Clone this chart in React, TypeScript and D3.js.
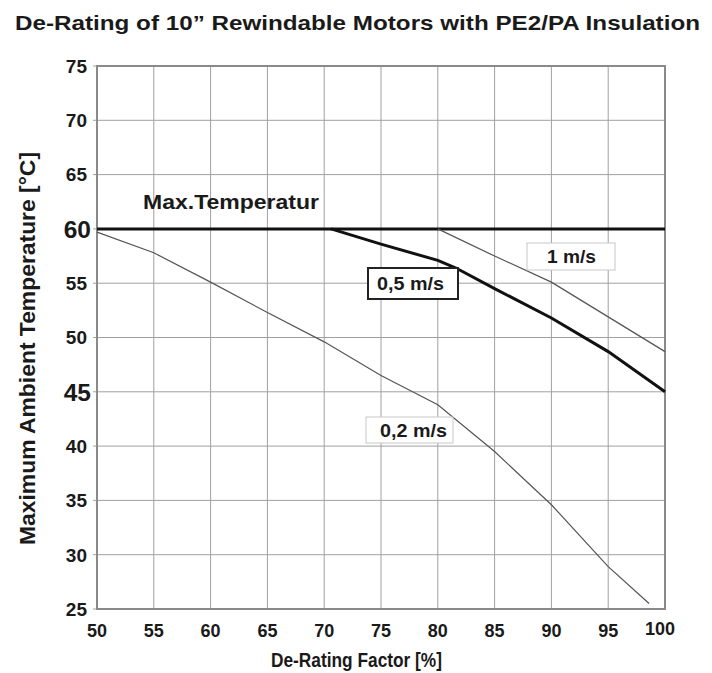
import { useEffect, useRef } from "react";
import * as d3 from "d3";

const xTicks = [50, 55, 60, 65, 70, 75, 80, 85, 90, 95, 100];
const yTicks = [25, 30, 35, 40, 45, 50, 55, 60, 65, 70, 75];
const bigYTicks = [45, 60];

const maxTemp = 60;
const speed02: [number, number][] = [
  [50, 59.7], [55, 57.8], [60, 55.1], [65, 52.3], [70, 49.6], [75, 46.5],
  [80, 43.8], [85, 39.5], [90, 34.6], [95, 28.9], [98.6, 25.5],
];
const speed05: [number, number][] = [
  [70.6, 60], [75, 58.6], [80, 57.1], [81.6, 56.4], [85, 54.5], [90, 51.8], [95, 48.7], [100, 45],
];
const speed1: [number, number][] = [
  [80, 60], [85, 57.5], [90, 55.1], [95, 51.9], [100, 48.7],
];

export default function App() {
  const ref = useRef<SVGSVGElement>(null);

  useEffect(() => {
    const svg = d3.select(ref.current);
    svg.selectAll("*").remove();

    const MARGIN = { top: 66, left: 97, right: 47, bottom: 64 };
    const width = 712;
    const height = 673;
    const x = d3.scaleLinear().domain([50, 100]).range([MARGIN.left, width - MARGIN.right]);
    const y = d3.scaleLinear().domain([25, 75]).range([height - MARGIN.bottom, MARGIN.top]);
    const font = "Liberation Sans, Arial, sans-serif";
    const ink = "#1a1a1a";

    svg.append("rect").attr("width", width).attr("height", height).attr("fill", "white");

    // title
    svg.append("text")
      .text("De-Rating of 10\u201D Rewindable Motors with PE2/PA Insulation")
      .attr("x", 15).attr("y", 30)
      .attr("font-family", font).attr("font-weight", "bold").attr("font-size", 21)
      .attr("textLength", 685).attr("lengthAdjust", "spacingAndGlyphs")
      .attr("fill", ink);

    // grid
    const g = svg.append("g");
    xTicks.forEach((t) => {
      g.append("line")
        .attr("x1", x(t)).attr("x2", x(t))
        .attr("y1", y(25)).attr("y2", y(75))
        .attr("stroke", "#a0a0a0").attr("stroke-width", 1);
    });
    yTicks.forEach((t) => {
      g.append("line")
        .attr("x1", x(50) - 4).attr("x2", x(100))
        .attr("y1", y(t)).attr("y2", y(t))
        .attr("stroke", "#a0a0a0").attr("stroke-width", 1);
    });
    g.append("rect")
      .attr("x", x(50)).attr("y", y(75))
      .attr("width", x(100) - x(50)).attr("height", y(25) - y(75))
      .attr("fill", "none").attr("stroke", "#8a8a8a").attr("stroke-width", 2);

    // tick labels
    yTicks.forEach((t) => {
      const big = bigYTicks.includes(t);
      svg.append("text")
        .text(t)
        .attr("x", big ? 91 : 87).attr("y", y(t))
        .attr("dy", "0.36em")
        .attr("text-anchor", "end")
        .attr("font-family", font).attr("font-weight", "bold")
        .attr("font-size", big ? 24.5 : 19)
        .attr("fill", ink);
    });
    xTicks.forEach((t) => {
      svg.append("text")
        .text(t)
        .attr("x", x(t) + (t === 100 ? -5 : 0)).attr("y", t === 100 ? 635 : 637)
        .attr("text-anchor", "middle")
        .attr("font-family", font).attr("font-weight", "bold").attr("font-size", 18)
        .attr("fill", ink);
    });

    // axis titles
    svg.append("text")
      .text("De-Rating Factor [%]")
      .attr("x", 271).attr("y", 667)
      .attr("font-family", font).attr("font-weight", "bold").attr("font-size", 20.5)
      .attr("textLength", 171).attr("lengthAdjust", "spacingAndGlyphs")
      .attr("fill", ink);
    svg.append("text")
      .text("Maximum Ambient Temperature [°C]")
      .attr("transform", `translate(35, 545) rotate(-90)`)
      .attr("font-family", font).attr("font-weight", "bold").attr("font-size", 21.5)
      .attr("textLength", 393).attr("lengthAdjust", "spacingAndGlyphs")
      .attr("fill", ink);

    const line = d3.line<[number, number]>().x((d) => x(d[0])).y((d) => y(d[1]));

    // max temperature line
    svg.append("line")
      .attr("x1", x(50)).attr("x2", x(100))
      .attr("y1", y(maxTemp)).attr("y2", y(maxTemp))
      .attr("stroke", "#111").attr("stroke-width", 3);
    svg.append("text")
      .text("Max.Temperatur")
      .attr("x", 143).attr("y", 209)
      .attr("font-family", font).attr("font-weight", "bold").attr("font-size", 21)
      .attr("textLength", 176).attr("lengthAdjust", "spacingAndGlyphs")
      .attr("fill", ink);

    svg.append("path").attr("d", line(speed02)!)
      .attr("fill", "none").attr("stroke", "#555").attr("stroke-width", 1.2);
    svg.append("path").attr("d", line(speed1)!)
      .attr("fill", "none").attr("stroke", "#555").attr("stroke-width", 1.2);
    svg.append("path").attr("d", line(speed05)!)
      .attr("fill", "none").attr("stroke", "#111").attr("stroke-width", 3);

    // curve labels
    const labels = [
      { text: "1 m/s", x0: 527, y0: 243, w: 88, h: 27, tx: 547, tl: 49, stroke: "#c8c8c8", sw: 1 },
      { text: "0,5 m/s", x0: 368, y0: 268, w: 90, h: 31, tx: 377, tl: 67, stroke: "#222", sw: 2 },
      { text: "0,2 m/s", x0: 366, y0: 417, w: 87, h: 26, tx: 380, tl: 67, stroke: "#c8c8c8", sw: 1 },
    ];
    labels.forEach((l) => {
      svg.append("rect")
        .attr("x", l.x0).attr("y", l.y0).attr("width", l.w).attr("height", l.h)
        .attr("fill", "white").attr("stroke", l.stroke).attr("stroke-width", l.sw);
      svg.append("text")
        .text(l.text)
        .attr("x", l.tx).attr("y", l.y0 + l.h / 2)
        .attr("dy", "0.36em")
        .attr("font-family", font).attr("font-weight", "bold").attr("font-size", 18.5)
        .attr("textLength", l.tl).attr("lengthAdjust", "spacingAndGlyphs")
        .attr("fill", ink);
    });
  }, []);

  return (
    <svg ref={ref} width={712} height={673}
      style={{ position: "absolute", left: 0, top: 0, display: "block" }} />
  );
}
